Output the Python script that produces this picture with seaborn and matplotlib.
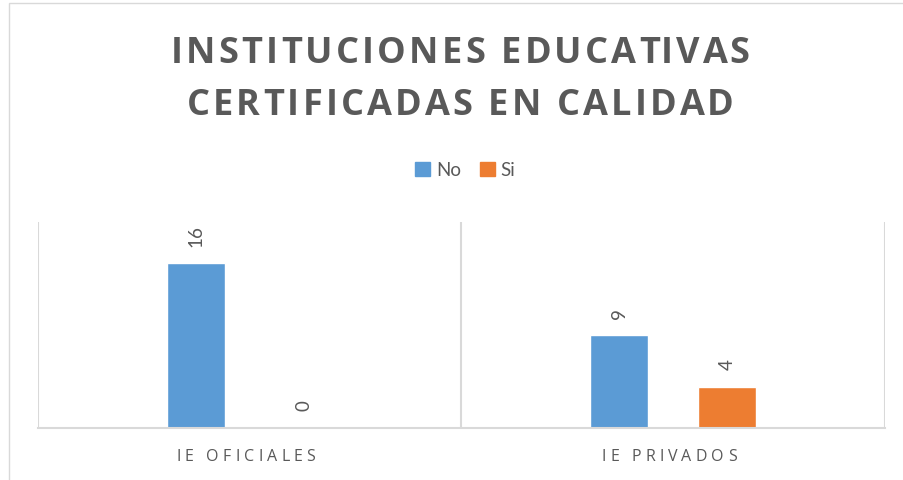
import matplotlib
matplotlib.use("Agg")
import matplotlib.pyplot as plt
from matplotlib.patches import Rectangle
import seaborn as sns
import pandas as pd

categories = ["IE OFICIALES", "IE PRIVADOS"]
series = ["No", "Si"]
no_values = [16, 9]
si_values = [0, 4]
colors = ["#5B9BD5", "#ED7D31"]
title_lines = ["INSTITUCIONES EDUCATIVAS", "CERTIFICADAS EN CALIDAD"]

df = pd.DataFrame({
    "Tipo": categories * 2,
    "Serie": ["No"] * 2 + ["Si"] * 2,
    "Valor": no_values + si_values,
})

sns.set_theme(style="white")
plt.rcParams["font.family"] = ["Lato", "DejaVu Sans"]
grey = "#595959"
line_grey = "#D9D9D9"

fig = plt.figure(figsize=(9.04, 4.8), dpi=100)
ax = fig.add_axes([38 / 904, 52 / 480, (885 - 38) / 904, (428 - 222) / 480])

sns.barplot(data=df, x="Tipo", y="Valor", hue="Serie", hue_order=series,
            palette=colors, width=0.51, gap=0.46, ax=ax, saturation=1)

ax.set_xlim(-0.5, 1.5)
ax.set_ylim(0, 20)
ax.set_yticks([])
ax.set_xlabel("")
ax.set_ylabel("")

# category separators and baseline
for x in [-0.5, 0.5, 1.5]:
    ax.axvline(x, color=line_grey, lw=1.5, zorder=0)
for side in ["top", "right", "left"]:
    ax.spines[side].set_visible(False)
ax.spines["bottom"].set_color(line_grey)
ax.spines["bottom"].set_linewidth(1.5)

ax.set_xticks(range(len(categories)))
ax.set_xticklabels([])
ax.tick_params(axis="x", length=0)

for container in ax.containers:
    ax.bar_label(container, fmt="%d", rotation=90, padding=12,
                 fontsize=13.5, color=grey)

ax.legend_.remove()
handles = [Rectangle((0, 0), 1, 1, color=c) for c in colors]
fig.legend(handles, series, loc="center", bbox_to_anchor=(465 / 904, 1 - 170 / 480),
           ncol=2, frameon=False, handlelength=0.8, handleheight=0.8,
           handletextpad=0.3, columnspacing=1.0, fontsize=13.5,
           labelcolor=grey)

# letter-spaced text, placed glyph by glyph (pixel coordinates)
renderer = fig.canvas.get_renderer()


def text_width(s, kw):
    t = fig.text(0, 0, s + "I", **kw)
    w = t.get_window_extent(renderer).width
    t.remove()
    return w


def tracked_text(s, cx, y_base, track, kw):
    w_ref = text_width("", kw)
    total = text_width(s, kw) - w_ref + track * (len(s) - 1)
    left = cx - total / 2
    for i, ch in enumerate(s):
        x = left + (text_width(s[:i], kw) - w_ref) + track * i
        fig.text(x / 904, 1 - y_base / 480, ch, ha="left", va="baseline", **kw)


title_kw = dict(fontsize=26, fontweight="bold", color=grey,
                family=["Open Sans", "DejaVu Sans"])
for line, y_base in zip(title_lines, [63, 115]):
    tracked_text(line, 460, y_base, 3.2, title_kw)

# category labels under the axis
tick_kw = dict(fontsize=11.5, color=grey, family=["Open Sans", "DejaVu Sans"])
for i, cat in enumerate(categories):
    cx = ax.transData.transform((i, 0))[0] - 4
    tracked_text(cat, cx, 461, 4.2, tick_kw)

fig.patches.append(Rectangle((9 / 904, -0.1), 1.2, 1 - 3 / 480 + 0.1,
                             transform=fig.transFigure, fill=False,
                             edgecolor=line_grey, lw=1))

fig.savefig("out.png", dpi=100)
